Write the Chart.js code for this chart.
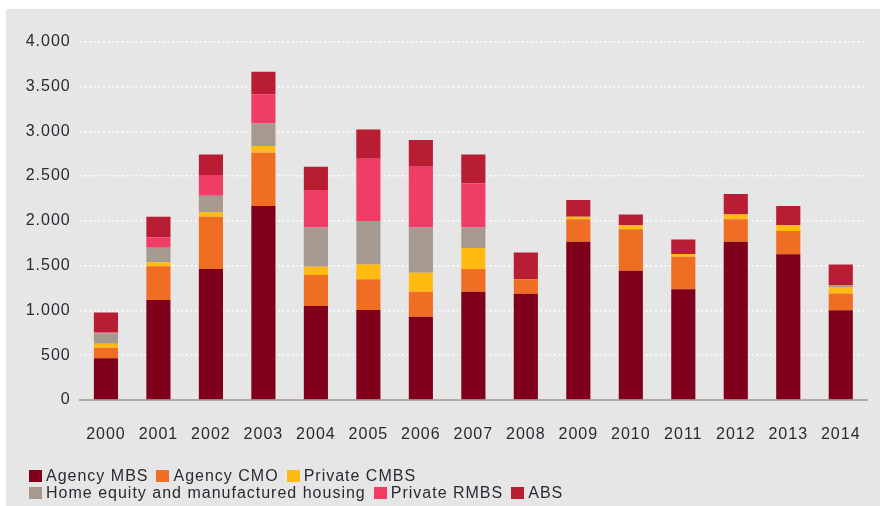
<!DOCTYPE html>
<html>
<head>
<meta charset="utf-8">
<script src="https://cdn.jsdelivr.net/npm/chart.js@4.4.1/dist/chart.umd.min.js"></script>
<style>
  html, body { margin: 0; padding: 0; background: #ffffff; }
  body { width: 880px; height: 506px; position: relative; overflow: hidden; }
  #panel {
    position: absolute; left: 6px; top: 9px; width: 874px; height: 497px;
    background: #e6e6e6;
  }
  #chart { position: absolute; left: 0; top: 0; }
  #legend {
    position: absolute; left: 23px; top: 458px;
    font-family: "Liberation Sans", Arial, sans-serif;
    font-size: 16px; letter-spacing: 1px; color: #2a2a33;
  }
  #legend .row { display: flex; align-items: center; height: 17.6px; white-space: nowrap; }
  #legend .item { display: flex; align-items: center; margin-right: 8px; }
  #legend .box { width: 13px; height: 12px; margin-right: 4px; flex: none; }
</style>
</head>
<body>
<div id="panel">
  <canvas id="chart" width="874" height="497"></canvas>
  <div id="legend"></div>
</div>
<script>
// Issuance by segment, 2000–2014 (stacked)
const years = ['2000','2001','2002','2003','2004','2005','2006','2007','2008','2009','2010','2011','2012','2013','2014'];

const agencyMBS  = [465, 1116, 1462, 2165, 1049, 1004, 930, 1209, 1187, 1767, 1443, 1235, 1767, 1626, 1001];
const agencyCMO  = [119,  376,  584,  595,  346,  343, 279,  253,  160,  251,  462,  365,  250,  260,  189];
const privateCMBS = [45,   45,   49,   75,   93,  167, 212,  234,    0,   28,   48,   29,   55,   67,   71];
const homeEquity = [115,  163,  185,  253,  439,  484, 506,  231,    0,    0,    0,    0,    0,    0,   19];
const privateRMBS = [10,  116,  231,  324,  417,  695, 677,  491,    0,    0,    0,    0,    0,    0,    0];
const abs        = [224,  230,  231,  253,  260,  328, 298,  324,  301,  186,  119,  164,  227,  212,  234];

const seriesNames = ['Agency MBS', 'Agency CMO', 'Private CMBS', 'Home equity and manufactured housing', 'Private RMBS', 'ABS'];
const seriesColors = ['#80001b', '#f06e24', '#ffbb0f', '#a69a90', '#ef3d66', '#b81d34'];
const seriesValues = [agencyMBS, agencyCMO, privateCMBS, homeEquity, privateRMBS, abs];

const yTickValues = [0, 500, 1000, 1500, 2000, 2500, 3000, 3500, 4000];

const FONT = '"Liberation Sans", Arial, sans-serif';
const TEXT = '#2a2a33';

// Canvas text uses the same slight tracking as the legend
const tracking = {
  id: 'tracking',
  beforeLayout(chart) { chart.ctx.letterSpacing = '1px'; },
  beforeDraw(chart) { chart.ctx.letterSpacing = '1px'; }
};

const fmt = v => String(v).replace(/\B(?=(\d{3})+(?!\d))/g, '.');

const chart = new Chart(document.getElementById('chart'), {
  type: 'bar',
  data: {
    labels: years,
    datasets: seriesValues.map((vals, i) => ({
      label: seriesNames[i],
      data: vals,
      backgroundColor: seriesColors[i],
      borderWidth: 0,
      categoryPercentage: 1,
      barPercentage: 0.46
    }))
  },
  options: {
    responsive: false,
    animation: false,
    devicePixelRatio: 1,
    layout: { padding: { top: 32.7, right: 13, left: 0, bottom: 0 } },
    plugins: { legend: { display: false }, tooltip: { enabled: false } },
    scales: {
      x: {
        stacked: true,
        grid: { display: false, drawTicks: false },
        border: { display: true, color: '#b3aaa0', width: 2 },
        ticks: { color: TEXT, font: { family: FONT, size: 16 }, padding: 25, maxRotation: 0 },
        afterFit(scale) {
          scale.height = 106;
          // labels sit inside their categories, so no side padding is needed
          scale.paddingLeft = 0;
          scale.paddingRight = 0;
        }
      },
      y: {
        stacked: true,
        min: 0,
        max: 4000,
        afterBuildTicks(scale) { scale.ticks = yTickValues.map(v => ({ value: v })); },
        grid: {
          drawTicks: false,
          lineWidth: 1.5,
          color: ctx => (ctx.tick && ctx.tick.value === 0) ? 'rgba(0,0,0,0)' : '#ffffff'
        },
        border: { display: false, dash: [2, 2.6] },
        ticks: { color: TEXT, font: { family: FONT, size: 16 }, padding: 9, callback: v => fmt(v) },
        afterFit(scale) { scale.width = 73.7; }
      }
    }
  },
  plugins: [tracking]
});

// Two-row legend below the plot
const legendRows = [[0, 1, 2], [3, 4, 5]];
const legendEl = document.getElementById('legend');
legendRows.forEach(row => {
  const r = document.createElement('div');
  r.className = 'row';
  row.forEach(i => {
    const ds = chart.data.datasets[i];
    const item = document.createElement('div');
    item.className = 'item';
    const box = document.createElement('span');
    box.className = 'box';
    box.style.background = ds.backgroundColor;
    const txt = document.createElement('span');
    txt.textContent = ds.label;
    item.appendChild(box);
    item.appendChild(txt);
    r.appendChild(item);
  });
  legendEl.appendChild(r);
});
</script>
</body>
</html>
